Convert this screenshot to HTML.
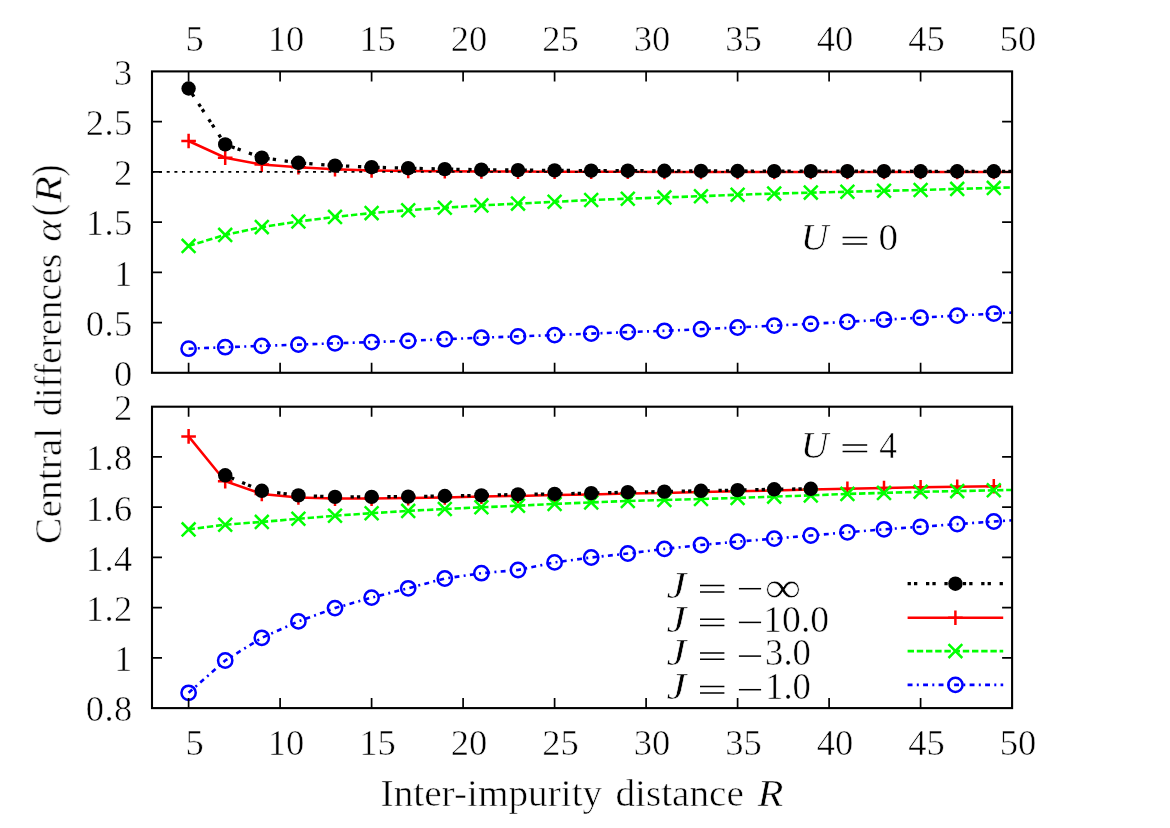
<!DOCTYPE html>
<html><head><meta charset="utf-8"><title>Central differences</title>
<style>
html,body{margin:0;padding:0;background:#fff;}
body{width:1170px;height:828px;overflow:hidden;font-family:"Liberation Serif",serif;}
svg{display:block;}
text{stroke:#fff;stroke-width:0.55px;}
.tx{filter:grayscale(1);}
</style></head><body>
<svg width="1170" height="828" viewBox="0 0 1170 828" font-family="'Liberation Serif', serif" fill="#000">
<rect width="1170" height="828" fill="#fff"/>
<defs><clipPath id="ct"><rect x="152.0" y="71.4" width="860.1" height="301.4"/></clipPath><clipPath id="cb"><rect x="152.0" y="406.7" width="860.1" height="301.4"/></clipPath></defs>
<polyline points="188.6,141.0 225.2,157.7 261.8,164.6 298.4,167.3 335.0,169.2 371.6,170.4 408.2,171.0 444.8,171.3 481.4,171.5 518.0,171.6 554.6,171.7 591.2,171.8 627.8,171.8 664.4,171.9 701.0,171.9 737.6,171.9 774.2,171.9 810.8,171.9 847.4,171.9 884.0,171.9 920.6,171.9 957.2,171.9 993.8,171.9 1030.4,171.9" fill="none" stroke="#f00" stroke-width="2.5" clip-path="url(#ct)"/>
<path d="M181.3 141.0H195.9M188.6 133.7V148.3" stroke="#f00" stroke-width="2.5" fill="none"/>
<path d="M217.9 157.7H232.5M225.2 150.4V165.0" stroke="#f00" stroke-width="2.5" fill="none"/>
<path d="M254.5 164.6H269.1M261.8 157.3V171.9" stroke="#f00" stroke-width="2.5" fill="none"/>
<path d="M291.1 167.3H305.7M298.4 160.0V174.6" stroke="#f00" stroke-width="2.5" fill="none"/>
<path d="M327.7 169.2H342.3M335.0 161.9V176.5" stroke="#f00" stroke-width="2.5" fill="none"/>
<path d="M364.3 170.4H378.9M371.6 163.1V177.7" stroke="#f00" stroke-width="2.5" fill="none"/>
<path d="M400.9 171.0H415.5M408.2 163.7V178.3" stroke="#f00" stroke-width="2.5" fill="none"/>
<path d="M437.5 171.3H452.1M444.8 164.0V178.6" stroke="#f00" stroke-width="2.5" fill="none"/>
<path d="M474.1 171.5H488.7M481.4 164.2V178.8" stroke="#f00" stroke-width="2.5" fill="none"/>
<path d="M510.7 171.6H525.3M518.0 164.3V178.9" stroke="#f00" stroke-width="2.5" fill="none"/>
<path d="M547.3 171.7H561.9M554.6 164.4V179.0" stroke="#f00" stroke-width="2.5" fill="none"/>
<path d="M583.9 171.8H598.5M591.2 164.5V179.1" stroke="#f00" stroke-width="2.5" fill="none"/>
<path d="M620.5 171.8H635.1M627.8 164.5V179.1" stroke="#f00" stroke-width="2.5" fill="none"/>
<path d="M657.1 171.9H671.7M664.4 164.6V179.2" stroke="#f00" stroke-width="2.5" fill="none"/>
<path d="M693.7 171.9H708.3M701.0 164.6V179.2" stroke="#f00" stroke-width="2.5" fill="none"/>
<path d="M730.3 171.9H744.9M737.6 164.6V179.2" stroke="#f00" stroke-width="2.5" fill="none"/>
<path d="M766.9 171.9H781.5M774.2 164.6V179.2" stroke="#f00" stroke-width="2.5" fill="none"/>
<path d="M803.5 171.9H818.1M810.8 164.6V179.2" stroke="#f00" stroke-width="2.5" fill="none"/>
<path d="M840.1 171.9H854.7M847.4 164.6V179.2" stroke="#f00" stroke-width="2.5" fill="none"/>
<path d="M876.7 171.9H891.3M884.0 164.6V179.2" stroke="#f00" stroke-width="2.5" fill="none"/>
<path d="M913.3 171.9H927.9M920.6 164.6V179.2" stroke="#f00" stroke-width="2.5" fill="none"/>
<path d="M949.9 171.9H964.5M957.2 164.6V179.2" stroke="#f00" stroke-width="2.5" fill="none"/>
<path d="M986.5 171.9H1001.1M993.8 164.6V179.2" stroke="#f00" stroke-width="2.5" fill="none"/>
<polyline points="188.6,245.9 225.2,234.9 261.8,227.1 298.4,221.5 335.0,216.9 371.6,213.1 408.2,210.2 444.8,207.7 481.4,205.4 518.0,203.6 554.6,201.8 591.2,200.0 627.8,198.7 664.4,197.4 701.0,196.2 737.6,194.7 774.2,193.6 810.8,192.6 847.4,191.8 884.0,190.8 920.6,190.0 957.2,188.9 993.8,187.9 1030.4,187.0" fill="none" stroke="#0f0" stroke-width="2.6" stroke-dasharray="6.4 2.8" clip-path="url(#ct)"/>
<path d="M181.7 239.0L195.5 252.8M181.7 252.8L195.5 239.0" stroke="#0f0" stroke-width="2.5" fill="none"/>
<path d="M218.3 228.0L232.1 241.8M218.3 241.8L232.1 228.0" stroke="#0f0" stroke-width="2.5" fill="none"/>
<path d="M254.9 220.2L268.7 234.0M254.9 234.0L268.7 220.2" stroke="#0f0" stroke-width="2.5" fill="none"/>
<path d="M291.5 214.6L305.3 228.4M291.5 228.4L305.3 214.6" stroke="#0f0" stroke-width="2.5" fill="none"/>
<path d="M328.1 210.0L341.9 223.8M328.1 223.8L341.9 210.0" stroke="#0f0" stroke-width="2.5" fill="none"/>
<path d="M364.7 206.2L378.5 220.0M364.7 220.0L378.5 206.2" stroke="#0f0" stroke-width="2.5" fill="none"/>
<path d="M401.3 203.3L415.1 217.1M401.3 217.1L415.1 203.3" stroke="#0f0" stroke-width="2.5" fill="none"/>
<path d="M437.9 200.8L451.7 214.6M437.9 214.6L451.7 200.8" stroke="#0f0" stroke-width="2.5" fill="none"/>
<path d="M474.5 198.5L488.3 212.3M474.5 212.3L488.3 198.5" stroke="#0f0" stroke-width="2.5" fill="none"/>
<path d="M511.1 196.7L524.9 210.5M511.1 210.5L524.9 196.7" stroke="#0f0" stroke-width="2.5" fill="none"/>
<path d="M547.7 194.9L561.5 208.7M547.7 208.7L561.5 194.9" stroke="#0f0" stroke-width="2.5" fill="none"/>
<path d="M584.3 193.1L598.1 206.9M584.3 206.9L598.1 193.1" stroke="#0f0" stroke-width="2.5" fill="none"/>
<path d="M620.9 191.8L634.7 205.6M620.9 205.6L634.7 191.8" stroke="#0f0" stroke-width="2.5" fill="none"/>
<path d="M657.5 190.5L671.3 204.3M657.5 204.3L671.3 190.5" stroke="#0f0" stroke-width="2.5" fill="none"/>
<path d="M694.1 189.3L707.9 203.1M694.1 203.1L707.9 189.3" stroke="#0f0" stroke-width="2.5" fill="none"/>
<path d="M730.7 187.8L744.5 201.6M730.7 201.6L744.5 187.8" stroke="#0f0" stroke-width="2.5" fill="none"/>
<path d="M767.3 186.7L781.1 200.5M767.3 200.5L781.1 186.7" stroke="#0f0" stroke-width="2.5" fill="none"/>
<path d="M803.9 185.7L817.7 199.5M803.9 199.5L817.7 185.7" stroke="#0f0" stroke-width="2.5" fill="none"/>
<path d="M840.5 184.9L854.3 198.7M840.5 198.7L854.3 184.9" stroke="#0f0" stroke-width="2.5" fill="none"/>
<path d="M877.1 183.9L890.9 197.7M877.1 197.7L890.9 183.9" stroke="#0f0" stroke-width="2.5" fill="none"/>
<path d="M913.7 183.1L927.5 196.9M913.7 196.9L927.5 183.1" stroke="#0f0" stroke-width="2.5" fill="none"/>
<path d="M950.3 182.0L964.1 195.8M950.3 195.8L964.1 182.0" stroke="#0f0" stroke-width="2.5" fill="none"/>
<path d="M986.9 181.0L1000.7 194.8M986.9 194.8L1000.7 181.0" stroke="#0f0" stroke-width="2.5" fill="none"/>
<polyline points="188.6,348.7 225.2,347.2 261.8,345.9 298.4,344.6 335.0,343.3 371.6,342.1 408.2,340.8 444.8,339.2 481.4,337.7 518.0,336.4 554.6,335.1 591.2,333.6 627.8,332.1 664.4,330.8 701.0,329.2 737.6,327.5 774.2,325.6 810.8,323.8 847.4,321.8 884.0,319.7 920.6,317.7 957.2,315.6 993.8,313.6 1030.4,311.5" fill="none" stroke="#00f" stroke-width="2.6" stroke-dasharray="4.9 4.3 2.0 4.3" clip-path="url(#ct)"/>
<circle cx="188.6" cy="348.7" r="7.15" fill="none" stroke="#00f" stroke-width="2.5"/>
<circle cx="225.2" cy="347.2" r="7.15" fill="none" stroke="#00f" stroke-width="2.5"/>
<circle cx="261.8" cy="345.9" r="7.15" fill="none" stroke="#00f" stroke-width="2.5"/>
<circle cx="298.4" cy="344.6" r="7.15" fill="none" stroke="#00f" stroke-width="2.5"/>
<circle cx="335.0" cy="343.3" r="7.15" fill="none" stroke="#00f" stroke-width="2.5"/>
<circle cx="371.6" cy="342.1" r="7.15" fill="none" stroke="#00f" stroke-width="2.5"/>
<circle cx="408.2" cy="340.8" r="7.15" fill="none" stroke="#00f" stroke-width="2.5"/>
<circle cx="444.8" cy="339.2" r="7.15" fill="none" stroke="#00f" stroke-width="2.5"/>
<circle cx="481.4" cy="337.7" r="7.15" fill="none" stroke="#00f" stroke-width="2.5"/>
<circle cx="518.0" cy="336.4" r="7.15" fill="none" stroke="#00f" stroke-width="2.5"/>
<circle cx="554.6" cy="335.1" r="7.15" fill="none" stroke="#00f" stroke-width="2.5"/>
<circle cx="591.2" cy="333.6" r="7.15" fill="none" stroke="#00f" stroke-width="2.5"/>
<circle cx="627.8" cy="332.1" r="7.15" fill="none" stroke="#00f" stroke-width="2.5"/>
<circle cx="664.4" cy="330.8" r="7.15" fill="none" stroke="#00f" stroke-width="2.5"/>
<circle cx="701.0" cy="329.2" r="7.15" fill="none" stroke="#00f" stroke-width="2.5"/>
<circle cx="737.6" cy="327.5" r="7.15" fill="none" stroke="#00f" stroke-width="2.5"/>
<circle cx="774.2" cy="325.6" r="7.15" fill="none" stroke="#00f" stroke-width="2.5"/>
<circle cx="810.8" cy="323.8" r="7.15" fill="none" stroke="#00f" stroke-width="2.5"/>
<circle cx="847.4" cy="321.8" r="7.15" fill="none" stroke="#00f" stroke-width="2.5"/>
<circle cx="884.0" cy="319.7" r="7.15" fill="none" stroke="#00f" stroke-width="2.5"/>
<circle cx="920.6" cy="317.7" r="7.15" fill="none" stroke="#00f" stroke-width="2.5"/>
<circle cx="957.2" cy="315.6" r="7.15" fill="none" stroke="#00f" stroke-width="2.5"/>
<circle cx="993.8" cy="313.6" r="7.15" fill="none" stroke="#00f" stroke-width="2.5"/>
<path d="M152.0 171.9H1012.1" stroke="#000" stroke-width="1.7" stroke-dasharray="3 4.7" stroke-dashoffset="-7" fill="none"/>
<polyline points="188.6,88.5 225.2,144.4 261.8,157.7 298.4,162.8 335.0,165.6 371.6,167.2 408.2,168.2 444.8,169.1 481.4,169.7 518.0,170.1 554.6,170.4 591.2,170.6 627.8,170.7 664.4,170.8 701.0,170.9 737.6,171.0 774.2,171.1 810.8,171.1 847.4,171.2 884.0,171.2 920.6,171.3 957.2,171.3 993.8,171.3 1030.4,171.4" fill="none" stroke="#000" stroke-width="3.3" stroke-dasharray="3.3 3.1 3.3 8.7" clip-path="url(#ct)"/>
<circle cx="188.6" cy="88.5" r="7.2" fill="#000"/>
<circle cx="225.2" cy="144.4" r="7.2" fill="#000"/>
<circle cx="261.8" cy="157.7" r="7.2" fill="#000"/>
<circle cx="298.4" cy="162.8" r="7.2" fill="#000"/>
<circle cx="335.0" cy="165.6" r="7.2" fill="#000"/>
<circle cx="371.6" cy="167.2" r="7.2" fill="#000"/>
<circle cx="408.2" cy="168.2" r="7.2" fill="#000"/>
<circle cx="444.8" cy="169.1" r="7.2" fill="#000"/>
<circle cx="481.4" cy="169.7" r="7.2" fill="#000"/>
<circle cx="518.0" cy="170.1" r="7.2" fill="#000"/>
<circle cx="554.6" cy="170.4" r="7.2" fill="#000"/>
<circle cx="591.2" cy="170.6" r="7.2" fill="#000"/>
<circle cx="627.8" cy="170.7" r="7.2" fill="#000"/>
<circle cx="664.4" cy="170.8" r="7.2" fill="#000"/>
<circle cx="701.0" cy="170.9" r="7.2" fill="#000"/>
<circle cx="737.6" cy="171.0" r="7.2" fill="#000"/>
<circle cx="774.2" cy="171.1" r="7.2" fill="#000"/>
<circle cx="810.8" cy="171.1" r="7.2" fill="#000"/>
<circle cx="847.4" cy="171.2" r="7.2" fill="#000"/>
<circle cx="884.0" cy="171.2" r="7.2" fill="#000"/>
<circle cx="920.6" cy="171.3" r="7.2" fill="#000"/>
<circle cx="957.2" cy="171.3" r="7.2" fill="#000"/>
<circle cx="993.8" cy="171.3" r="7.2" fill="#000"/>
<polyline points="188.6,436.4 225.2,481.2 261.8,493.9 298.4,497.4 335.0,498.6 371.6,498.6 408.2,498.1 444.8,497.4 481.4,496.6 518.0,495.9 554.6,495.1 591.2,494.4 627.8,493.6 664.4,492.9 701.0,492.1 737.6,491.3 774.2,490.6 810.8,489.6 847.4,488.7 884.0,488.0 920.6,487.3 957.2,486.8 993.8,486.3" fill="none" stroke="#f00" stroke-width="2.5" clip-path="url(#cb)"/>
<path d="M181.3 436.4H195.9M188.6 429.1V443.7" stroke="#f00" stroke-width="2.5" fill="none"/>
<path d="M217.9 481.2H232.5M225.2 473.9V488.5" stroke="#f00" stroke-width="2.5" fill="none"/>
<path d="M254.5 493.9H269.1M261.8 486.6V501.2" stroke="#f00" stroke-width="2.5" fill="none"/>
<path d="M291.1 497.4H305.7M298.4 490.1V504.7" stroke="#f00" stroke-width="2.5" fill="none"/>
<path d="M327.7 498.6H342.3M335.0 491.3V505.9" stroke="#f00" stroke-width="2.5" fill="none"/>
<path d="M364.3 498.6H378.9M371.6 491.3V505.9" stroke="#f00" stroke-width="2.5" fill="none"/>
<path d="M400.9 498.1H415.5M408.2 490.8V505.4" stroke="#f00" stroke-width="2.5" fill="none"/>
<path d="M437.5 497.4H452.1M444.8 490.1V504.7" stroke="#f00" stroke-width="2.5" fill="none"/>
<path d="M474.1 496.6H488.7M481.4 489.3V503.9" stroke="#f00" stroke-width="2.5" fill="none"/>
<path d="M510.7 495.9H525.3M518.0 488.6V503.2" stroke="#f00" stroke-width="2.5" fill="none"/>
<path d="M547.3 495.1H561.9M554.6 487.8V502.4" stroke="#f00" stroke-width="2.5" fill="none"/>
<path d="M583.9 494.4H598.5M591.2 487.1V501.7" stroke="#f00" stroke-width="2.5" fill="none"/>
<path d="M620.5 493.6H635.1M627.8 486.3V500.9" stroke="#f00" stroke-width="2.5" fill="none"/>
<path d="M657.1 492.9H671.7M664.4 485.6V500.2" stroke="#f00" stroke-width="2.5" fill="none"/>
<path d="M693.7 492.1H708.3M701.0 484.8V499.4" stroke="#f00" stroke-width="2.5" fill="none"/>
<path d="M730.3 491.3H744.9M737.6 484.0V498.6" stroke="#f00" stroke-width="2.5" fill="none"/>
<path d="M766.9 490.6H781.5M774.2 483.3V497.9" stroke="#f00" stroke-width="2.5" fill="none"/>
<path d="M803.5 489.6H818.1M810.8 482.3V496.9" stroke="#f00" stroke-width="2.5" fill="none"/>
<path d="M840.1 488.7H854.7M847.4 481.4V496.0" stroke="#f00" stroke-width="2.5" fill="none"/>
<path d="M876.7 488.0H891.3M884.0 480.7V495.3" stroke="#f00" stroke-width="2.5" fill="none"/>
<path d="M913.3 487.3H927.9M920.6 480.0V494.6" stroke="#f00" stroke-width="2.5" fill="none"/>
<path d="M949.9 486.8H964.5M957.2 479.5V494.1" stroke="#f00" stroke-width="2.5" fill="none"/>
<path d="M986.5 486.3H1001.1M993.8 479.0V493.6" stroke="#f00" stroke-width="2.5" fill="none"/>
<polyline points="188.6,529.4 225.2,524.7 261.8,521.9 298.4,518.8 335.0,515.7 371.6,513.2 408.2,510.9 444.8,509.0 481.4,507.3 518.0,505.7 554.6,503.9 591.2,502.4 627.8,501.0 664.4,500.0 701.0,499.0 737.6,497.9 774.2,496.6 810.8,495.4 847.4,493.9 884.0,492.9 920.6,491.8 957.2,491.1 993.8,490.3 1030.4,489.6" fill="none" stroke="#0f0" stroke-width="2.6" stroke-dasharray="6.4 2.8" clip-path="url(#cb)"/>
<path d="M181.7 522.5L195.5 536.3M181.7 536.3L195.5 522.5" stroke="#0f0" stroke-width="2.5" fill="none"/>
<path d="M218.3 517.8L232.1 531.6M218.3 531.6L232.1 517.8" stroke="#0f0" stroke-width="2.5" fill="none"/>
<path d="M254.9 515.0L268.7 528.8M254.9 528.8L268.7 515.0" stroke="#0f0" stroke-width="2.5" fill="none"/>
<path d="M291.5 511.9L305.3 525.7M291.5 525.7L305.3 511.9" stroke="#0f0" stroke-width="2.5" fill="none"/>
<path d="M328.1 508.8L341.9 522.6M328.1 522.6L341.9 508.8" stroke="#0f0" stroke-width="2.5" fill="none"/>
<path d="M364.7 506.3L378.5 520.1M364.7 520.1L378.5 506.3" stroke="#0f0" stroke-width="2.5" fill="none"/>
<path d="M401.3 504.0L415.1 517.8M401.3 517.8L415.1 504.0" stroke="#0f0" stroke-width="2.5" fill="none"/>
<path d="M437.9 502.1L451.7 515.9M437.9 515.9L451.7 502.1" stroke="#0f0" stroke-width="2.5" fill="none"/>
<path d="M474.5 500.4L488.3 514.2M474.5 514.2L488.3 500.4" stroke="#0f0" stroke-width="2.5" fill="none"/>
<path d="M511.1 498.8L524.9 512.6M511.1 512.6L524.9 498.8" stroke="#0f0" stroke-width="2.5" fill="none"/>
<path d="M547.7 497.0L561.5 510.8M547.7 510.8L561.5 497.0" stroke="#0f0" stroke-width="2.5" fill="none"/>
<path d="M584.3 495.5L598.1 509.3M584.3 509.3L598.1 495.5" stroke="#0f0" stroke-width="2.5" fill="none"/>
<path d="M620.9 494.1L634.7 507.9M620.9 507.9L634.7 494.1" stroke="#0f0" stroke-width="2.5" fill="none"/>
<path d="M657.5 493.1L671.3 506.9M657.5 506.9L671.3 493.1" stroke="#0f0" stroke-width="2.5" fill="none"/>
<path d="M694.1 492.1L707.9 505.9M694.1 505.9L707.9 492.1" stroke="#0f0" stroke-width="2.5" fill="none"/>
<path d="M730.7 491.0L744.5 504.8M730.7 504.8L744.5 491.0" stroke="#0f0" stroke-width="2.5" fill="none"/>
<path d="M767.3 489.7L781.1 503.5M767.3 503.5L781.1 489.7" stroke="#0f0" stroke-width="2.5" fill="none"/>
<path d="M803.9 488.5L817.7 502.3M803.9 502.3L817.7 488.5" stroke="#0f0" stroke-width="2.5" fill="none"/>
<path d="M840.5 487.0L854.3 500.8M840.5 500.8L854.3 487.0" stroke="#0f0" stroke-width="2.5" fill="none"/>
<path d="M877.1 486.0L890.9 499.8M877.1 499.8L890.9 486.0" stroke="#0f0" stroke-width="2.5" fill="none"/>
<path d="M913.7 484.9L927.5 498.7M913.7 498.7L927.5 484.9" stroke="#0f0" stroke-width="2.5" fill="none"/>
<path d="M950.3 484.2L964.1 498.0M950.3 498.0L964.1 484.2" stroke="#0f0" stroke-width="2.5" fill="none"/>
<path d="M986.9 483.4L1000.7 497.2M986.9 497.2L1000.7 483.4" stroke="#0f0" stroke-width="2.5" fill="none"/>
<polyline points="188.6,692.8 225.2,660.5 261.8,637.8 298.4,621.4 335.0,608.1 371.6,597.6 408.2,588.3 444.8,578.5 481.4,573.2 518.0,570.0 554.6,562.4 591.2,557.5 627.8,553.5 664.4,548.9 701.0,545.0 737.6,541.6 774.2,538.6 810.8,535.5 847.4,532.3 884.0,529.3 920.6,526.8 957.2,524.1 993.8,521.5 1030.4,519.0" fill="none" stroke="#00f" stroke-width="2.6" stroke-dasharray="4.9 4.3 2.0 4.3" clip-path="url(#cb)"/>
<circle cx="188.6" cy="692.8" r="7.15" fill="none" stroke="#00f" stroke-width="2.5"/>
<circle cx="225.2" cy="660.5" r="7.15" fill="none" stroke="#00f" stroke-width="2.5"/>
<circle cx="261.8" cy="637.8" r="7.15" fill="none" stroke="#00f" stroke-width="2.5"/>
<circle cx="298.4" cy="621.4" r="7.15" fill="none" stroke="#00f" stroke-width="2.5"/>
<circle cx="335.0" cy="608.1" r="7.15" fill="none" stroke="#00f" stroke-width="2.5"/>
<circle cx="371.6" cy="597.6" r="7.15" fill="none" stroke="#00f" stroke-width="2.5"/>
<circle cx="408.2" cy="588.3" r="7.15" fill="none" stroke="#00f" stroke-width="2.5"/>
<circle cx="444.8" cy="578.5" r="7.15" fill="none" stroke="#00f" stroke-width="2.5"/>
<circle cx="481.4" cy="573.2" r="7.15" fill="none" stroke="#00f" stroke-width="2.5"/>
<circle cx="518.0" cy="570.0" r="7.15" fill="none" stroke="#00f" stroke-width="2.5"/>
<circle cx="554.6" cy="562.4" r="7.15" fill="none" stroke="#00f" stroke-width="2.5"/>
<circle cx="591.2" cy="557.5" r="7.15" fill="none" stroke="#00f" stroke-width="2.5"/>
<circle cx="627.8" cy="553.5" r="7.15" fill="none" stroke="#00f" stroke-width="2.5"/>
<circle cx="664.4" cy="548.9" r="7.15" fill="none" stroke="#00f" stroke-width="2.5"/>
<circle cx="701.0" cy="545.0" r="7.15" fill="none" stroke="#00f" stroke-width="2.5"/>
<circle cx="737.6" cy="541.6" r="7.15" fill="none" stroke="#00f" stroke-width="2.5"/>
<circle cx="774.2" cy="538.6" r="7.15" fill="none" stroke="#00f" stroke-width="2.5"/>
<circle cx="810.8" cy="535.5" r="7.15" fill="none" stroke="#00f" stroke-width="2.5"/>
<circle cx="847.4" cy="532.3" r="7.15" fill="none" stroke="#00f" stroke-width="2.5"/>
<circle cx="884.0" cy="529.3" r="7.15" fill="none" stroke="#00f" stroke-width="2.5"/>
<circle cx="920.6" cy="526.8" r="7.15" fill="none" stroke="#00f" stroke-width="2.5"/>
<circle cx="957.2" cy="524.1" r="7.15" fill="none" stroke="#00f" stroke-width="2.5"/>
<circle cx="993.8" cy="521.5" r="7.15" fill="none" stroke="#00f" stroke-width="2.5"/>
<polyline points="225.2,475.3 261.8,490.8 298.4,495.4 335.0,496.9 371.6,496.9 408.2,496.6 444.8,496.0 481.4,495.4 518.0,494.4 554.6,493.9 591.2,493.1 627.8,492.2 664.4,491.6 701.0,490.8 737.6,490.1 774.2,489.3 810.8,488.8" fill="none" stroke="#000" stroke-width="3.3" stroke-dasharray="3.3 3.1 3.3 8.7" clip-path="url(#cb)"/>
<circle cx="225.2" cy="475.3" r="7.2" fill="#000"/>
<circle cx="261.8" cy="490.8" r="7.2" fill="#000"/>
<circle cx="298.4" cy="495.4" r="7.2" fill="#000"/>
<circle cx="335.0" cy="496.9" r="7.2" fill="#000"/>
<circle cx="371.6" cy="496.9" r="7.2" fill="#000"/>
<circle cx="408.2" cy="496.6" r="7.2" fill="#000"/>
<circle cx="444.8" cy="496.0" r="7.2" fill="#000"/>
<circle cx="481.4" cy="495.4" r="7.2" fill="#000"/>
<circle cx="518.0" cy="494.4" r="7.2" fill="#000"/>
<circle cx="554.6" cy="493.9" r="7.2" fill="#000"/>
<circle cx="591.2" cy="493.1" r="7.2" fill="#000"/>
<circle cx="627.8" cy="492.2" r="7.2" fill="#000"/>
<circle cx="664.4" cy="491.6" r="7.2" fill="#000"/>
<circle cx="701.0" cy="490.8" r="7.2" fill="#000"/>
<circle cx="737.6" cy="490.1" r="7.2" fill="#000"/>
<circle cx="774.2" cy="489.3" r="7.2" fill="#000"/>
<circle cx="810.8" cy="488.8" r="7.2" fill="#000"/>
<rect x="152.0" y="71.4" width="860.1" height="301.4" fill="none" stroke="#000" stroke-width="2.1"/>
<path d="M188.6 71.4v10M188.6 372.8v-10M280.1 71.4v10M280.1 372.8v-10M371.6 71.4v10M371.6 372.8v-10M463.1 71.4v10M463.1 372.8v-10M554.6 71.4v10M554.6 372.8v-10M646.1 71.4v10M646.1 372.8v-10M737.6 71.4v10M737.6 372.8v-10M829.1 71.4v10M829.1 372.8v-10M920.6 71.4v10M920.6 372.8v-10M152.0 322.6h10M1012.1 322.6h-10M152.0 272.3h10M1012.1 272.3h-10M152.0 222.1h10M1012.1 222.1h-10M152.0 171.9h10M1012.1 171.9h-10M152.0 121.6h10M1012.1 121.6h-10" stroke="#000" stroke-width="1.7" fill="none"/>
<rect x="152.0" y="406.7" width="860.1" height="301.4" fill="none" stroke="#000" stroke-width="2.1"/>
<path d="M188.6 406.7v10M188.6 708.1v-10M280.1 406.7v10M280.1 708.1v-10M371.6 406.7v10M371.6 708.1v-10M463.1 406.7v10M463.1 708.1v-10M554.6 406.7v10M554.6 708.1v-10M646.1 406.7v10M646.1 708.1v-10M737.6 406.7v10M737.6 708.1v-10M829.1 406.7v10M829.1 708.1v-10M920.6 406.7v10M920.6 708.1v-10M152.0 657.9h10M1012.1 657.9h-10M152.0 607.6h10M1012.1 607.6h-10M152.0 557.4h10M1012.1 557.4h-10M152.0 507.2h10M1012.1 507.2h-10M152.0 456.9h10M1012.1 456.9h-10" stroke="#000" stroke-width="1.7" fill="none"/>
<path d="M842.6 237.50H867.2M842.6 243.90H867.2" stroke="#000" stroke-width="1.5" fill="none"/>
<path d="M842.6 445.10H867.2M842.6 451.50H867.2" stroke="#000" stroke-width="1.5" fill="none"/>
<path d="M700.0 585.50H724.4M700.0 591.90H724.4" stroke="#000" stroke-width="1.5" fill="none"/>
<path d="M738.9 588.70H761.1" stroke="#000" stroke-width="1.5" fill="none"/>
<path d="M907.6 583.7H1003.2" stroke="#000" stroke-width="3.3" stroke-dasharray="3.3 3.1 3.3 8.7" fill="none"/>
<circle cx="955.4" cy="583.7" r="7.2" fill="#000"/>
<path d="M700.0 619.20H724.4M700.0 625.60H724.4" stroke="#000" stroke-width="1.5" fill="none"/>
<path d="M738.9 622.40H761.1" stroke="#000" stroke-width="1.5" fill="none"/>
<path d="M907.6 617.8H1003.2" stroke="#f00" stroke-width="2.5" fill="none"/>
<path d="M948.1 617.8H962.7M955.4 610.5V625.1" stroke="#f00" stroke-width="2.5" fill="none"/>
<path d="M700.0 652.90H724.4M700.0 659.30H724.4" stroke="#000" stroke-width="1.5" fill="none"/>
<path d="M738.9 656.10H761.1" stroke="#000" stroke-width="1.5" fill="none"/>
<path d="M907.6 651.1H1003.2" stroke="#0f0" stroke-width="2.6" stroke-dasharray="6.4 2.8" fill="none"/>
<path d="M948.5 644.2L962.3 658.0M948.5 658.0L962.3 644.2" stroke="#0f0" stroke-width="2.5" fill="none"/>
<path d="M700.0 686.50H724.4M700.0 692.90H724.4" stroke="#000" stroke-width="1.5" fill="none"/>
<path d="M738.9 689.70H761.1" stroke="#000" stroke-width="1.5" fill="none"/>
<path d="M907.6 684.9H1003.2" stroke="#00f" stroke-width="2.6" stroke-dasharray="4.9 4.3 2.0 4.3" fill="none"/>
<circle cx="955.4" cy="684.9" r="7.15" fill="none" stroke="#00f" stroke-width="2.5"/>
<g class="tx">
<g font-size="36.5" text-anchor="middle">
<text x="194.6" y="51.4">5</text>
<text x="194.6" y="755.4">5</text>
<text x="286.1" y="51.4">10</text>
<text x="286.1" y="755.4">10</text>
<text x="377.6" y="51.4">15</text>
<text x="377.6" y="755.4">15</text>
<text x="469.1" y="51.4">20</text>
<text x="469.1" y="755.4">20</text>
<text x="560.6" y="51.4">25</text>
<text x="560.6" y="755.4">25</text>
<text x="652.1" y="51.4">30</text>
<text x="652.1" y="755.4">30</text>
<text x="743.6" y="51.4">35</text>
<text x="743.6" y="755.4">35</text>
<text x="835.1" y="51.4">40</text>
<text x="835.1" y="755.4">40</text>
<text x="926.6" y="51.4">45</text>
<text x="926.6" y="755.4">45</text>
<text x="1018.1" y="51.4">50</text>
<text x="1018.1" y="755.4">50</text>
</g>
<g font-size="36.5" text-anchor="end" letter-spacing="0.5">
<text x="132.8" y="84.7">3</text>
<text x="132.8" y="134.9">2.5</text>
<text x="132.8" y="185.2">2</text>
<text x="132.8" y="235.4">1.5</text>
<text x="132.8" y="285.6">1</text>
<text x="132.8" y="335.9">0.5</text>
<text x="132.8" y="386.1">0</text>
<text x="132.8" y="420.0">2</text>
<text x="132.8" y="470.2">1.8</text>
<text x="132.8" y="520.5">1.6</text>
<text x="132.8" y="570.7">1.4</text>
<text x="132.8" y="620.9">1.2</text>
<text x="132.8" y="671.2">1</text>
<text x="132.8" y="721.4">0.8</text>
</g>
<text transform="matrix(1.0206 0 0 1.0000 380.57 806.20)" font-size="38.5">Inter-impurity</text>
<text transform="matrix(1.0183 0 0 1.0000 615.47 806.20)" font-size="38.5">distance</text>
<text transform="matrix(1.1043 0 0 1.0000 757.38 806.20)" font-size="38.5" font-style="italic">R</text>
<g transform="translate(61.2 0) rotate(-90)">
<text transform="matrix(1.0261 0 0 1.0000 -543.94 0.00)" font-size="38.5">Central</text>
<text transform="matrix(0.9546 0 0 1.0000 -416.23 0.00)" font-size="38.5">differences</text>
<text transform="matrix(1.0718 0 0 1.0000 -241.64 0.00)" font-size="38.5" font-style="italic">α</text>
<text transform="matrix(0.9846 0 0 1.0914 -216.52 -0.00)" font-size="38.5">(</text>
<text transform="matrix(1.1391 0 0 1.0000 -202.82 0.00)" font-size="38.5" font-style="italic">R</text>
<text transform="matrix(0.9538 0 0 1.0914 -176.79 -0.00)" font-size="38.5">)</text>
</g>
<text transform="matrix(0.9943 0 0 1.0000 800.72 250.00)" font-size="38.5" font-style="italic">U</text>
<text transform="matrix(1.0154 0 0 1.0000 878.38 250.00)" font-size="38.5">0</text>
<text transform="matrix(0.9943 0 0 1.0000 800.72 457.60)" font-size="38.5" font-style="italic">U</text>
<text transform="matrix(0.9167 0 0 1.0000 879.21 457.60)" font-size="38.5">4</text>
<text transform="matrix(1.1549 0 0 1.0000 666.43 598.00)" font-size="38.5" font-style="italic">J</text>
<text transform="matrix(1.3306 0 0 1.1322 764.70 602.15)" font-size="38.5">∞</text>
<text transform="matrix(1.1549 0 0 1.0000 666.43 631.70)" font-size="38.5" font-style="italic">J</text>
<text transform="matrix(0.9776 0 0 1.0000 763.28 631.70)" font-size="38.5">10.0</text>
<text transform="matrix(1.1549 0 0 1.0000 666.43 665.40)" font-size="38.5" font-style="italic">J</text>
<text transform="matrix(0.9533 0 0 1.0000 765.03 665.40)" font-size="38.5">3.0</text>
<text transform="matrix(1.1549 0 0 1.0000 666.43 699.00)" font-size="38.5" font-style="italic">J</text>
<text transform="matrix(0.9526 0 0 1.0000 765.07 699.00)" font-size="38.5">1.0</text>
</g>
</svg>
</body></html>
